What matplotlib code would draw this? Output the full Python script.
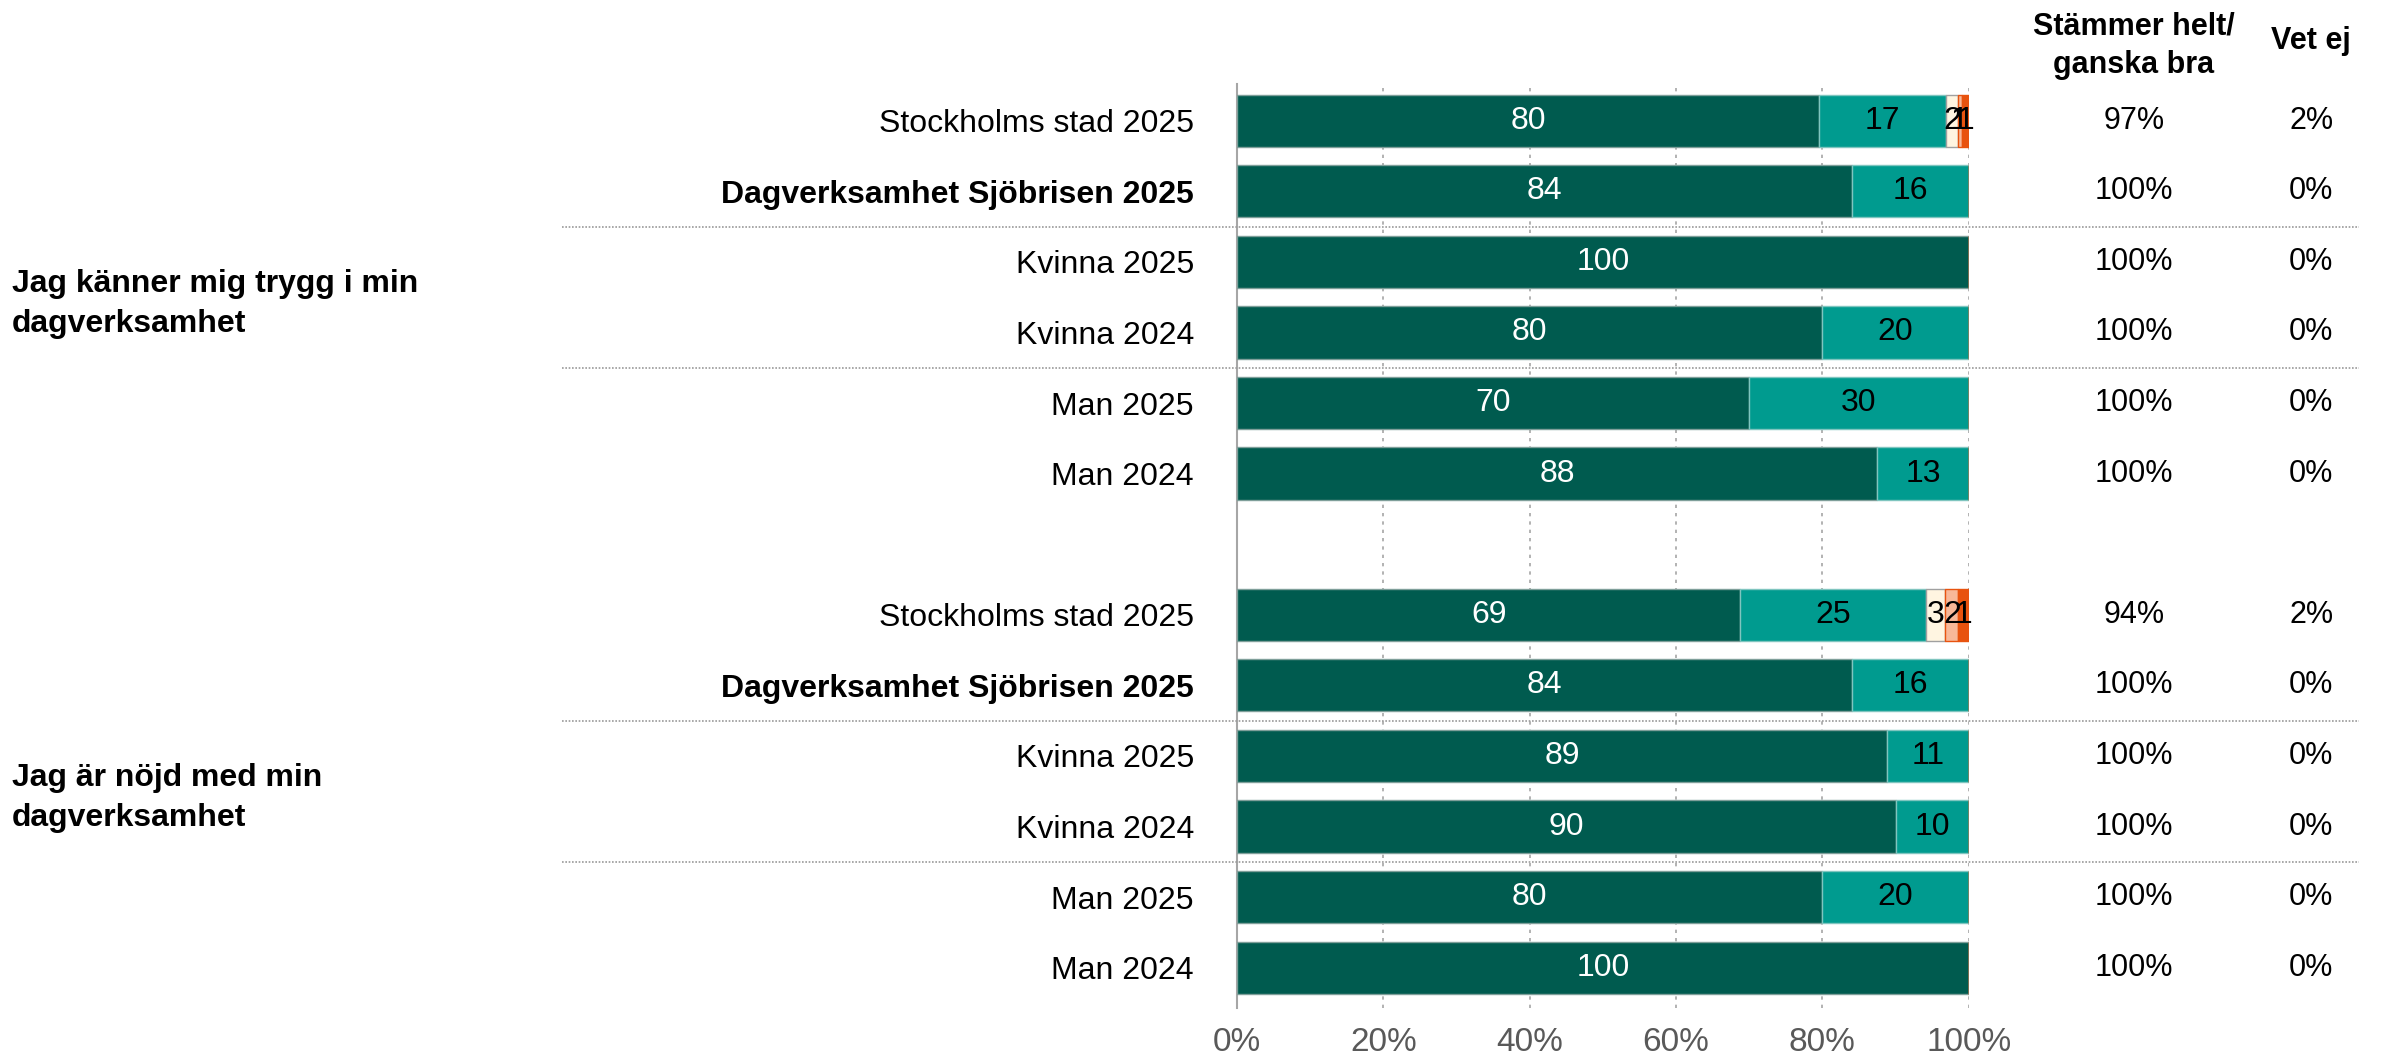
import numpy as np
import matplotlib.pyplot as plt
from matplotlib.lines import Line2D
import matplotlib.transforms as mtransforms

plt.rcParams['font.family'] = ['Liberation Sans', 'DejaVu Sans']

# --- Data ---
grupper = ['Jag känner mig trygg i min\ndagverksamhet', 'Jag är nöjd med min\ndagverksamhet']
rader = ['Stockholms stad 2025', 'Dagverksamhet Sjöbrisen 2025', 'Kvinna 2025',
         'Kvinna 2024', 'Man 2025', 'Man 2024']
fet_rad = 'Dagverksamhet Sjöbrisen 2025'

# andelar (%) per svarsalternativ, grupp 1 följt av grupp 2
helt = [79.6, 84, 100, 80, 70, 87.5,
        68.8, 84, 88.9, 90, 80, 100]
ganska_bra = [17.3, 16, 0, 20, 30, 12.5,
              25.4, 16, 11.1, 10, 20, 0]
ganska_daligt = [1.6, 0, 0, 0, 0, 0,
                 2.6, 0, 0, 0, 0, 0]
inte_sarskilt = [0.6, 0, 0, 0, 0, 0,
                 1.8, 0, 0, 0, 0, 0]
inte_alls = [0.9, 0, 0, 0, 0, 0,
             1.4, 0, 0, 0, 0, 0]

stammer_bra = [97, 100, 100, 100, 100, 100,
               94, 100, 100, 100, 100, 100]
vet_ej = [2, 0, 0, 0, 0, 0,
          2, 0, 0, 0, 0, 0]

xticks = [0, 20, 40, 60, 80, 100]

serier = [helt, ganska_bra, ganska_daligt, inte_sarskilt, inte_alls]
farger = ['#005B4F', '#009B8F', '#FFF5E1', '#F8B898', '#E8530F']
kanter = ['#7F9F9A', '#7FC5BF', '#A0A0A0', '#E8530F', '#E8530F']
textfarg = ['white', 'black', 'black', 'black', 'black']

# --- Figur ---
fig = plt.figure(figsize=(23.95, 10.56), dpi=100)
ax = fig.add_axes([0.5165, 0.0455, 0.3055, 0.875])

# positioner: 6 rader, ett tomt steg, 6 rader
ypos = np.r_[np.arange(6), np.arange(7, 13)]
etiketter = rader + rader

vanster = np.zeros(len(ypos))
for vals, fc, ec, tc in zip(serier, farger, kanter, textfarg):
    vals = np.array(vals, dtype=float)
    ax.barh(ypos, vals, left=vanster, height=0.74, color=fc, edgecolor=ec,
            linewidth=1.0, zorder=3)
    for y, v, l in zip(ypos, vals, vanster):
        if v > 0:
            ax.text(l + v / 2, y, f'{int(v + 0.5)}', ha='center', va='center',
                    fontsize=23, color=tc, zorder=4)
    vanster += vals

ax.set_xlim(0, 100)
ax.set_ylim(12.57, -0.52)
ax.set_xticks(xticks)
ax.set_xticklabels([f'{t}%' for t in xticks], fontsize=24, color='#595959')
ax.tick_params(axis='x', length=0, pad=14)
ax.set_yticks(ypos)
ax.set_yticklabels(etiketter, fontsize=23)
ax.tick_params(axis='y', length=0, pad=31)
for lab in ax.get_yticklabels():
    if lab.get_text() == fet_rad:
        lab.set_fontweight('bold')

ax.xaxis.grid(True, color='#A6A6A6', linestyle=(0, (2, 3)), linewidth=1.2, zorder=0)
ax.set_axisbelow(True)
for s in ['top', 'right', 'bottom']:
    ax.spines[s].set_visible(False)
ax.spines['left'].set_color('#A6A6A6')
ax.spines['left'].set_linewidth(1.5)

# blandade transformer: x i figuren, y i data
trans = mtransforms.blended_transform_factory(fig.transFigure, ax.transData)

# avdelare mellan grupper av rader
for y in [1.5, 3.5, 8.5, 10.5]:
    fig.add_artist(Line2D([0.2348, 0.985], [y, y], transform=trans,
                          color='#9A9A9A', linestyle=(0, (1, 1)), linewidth=1.2))

# frågetexter
for i, g in enumerate(grupper):
    ax.text(0.005, 2.6 + 7 * i, g, transform=trans, ha='left', va='center',
            fontsize=23, fontweight='bold', linespacing=1.45)

# högerkolumner
for y, s, v in zip(ypos, stammer_bra, vet_ej):
    ax.text(0.891, y, f'{s}%', transform=trans, ha='center', va='center', fontsize=22)
    ax.text(0.965, y, f'{v}%', transform=trans, ha='center', va='center', fontsize=22)

fig.text(0.891, 1 - 46 / 1056, 'Stämmer helt/\nganska bra', ha='center', va='center',
         fontsize=22, fontweight='bold', linespacing=1.35)
fig.text(0.965, 1 - 41 / 1056, 'Vet ej', ha='center', va='center',
         fontsize=22, fontweight='bold')

fig.savefig('out.png', dpi=100)
